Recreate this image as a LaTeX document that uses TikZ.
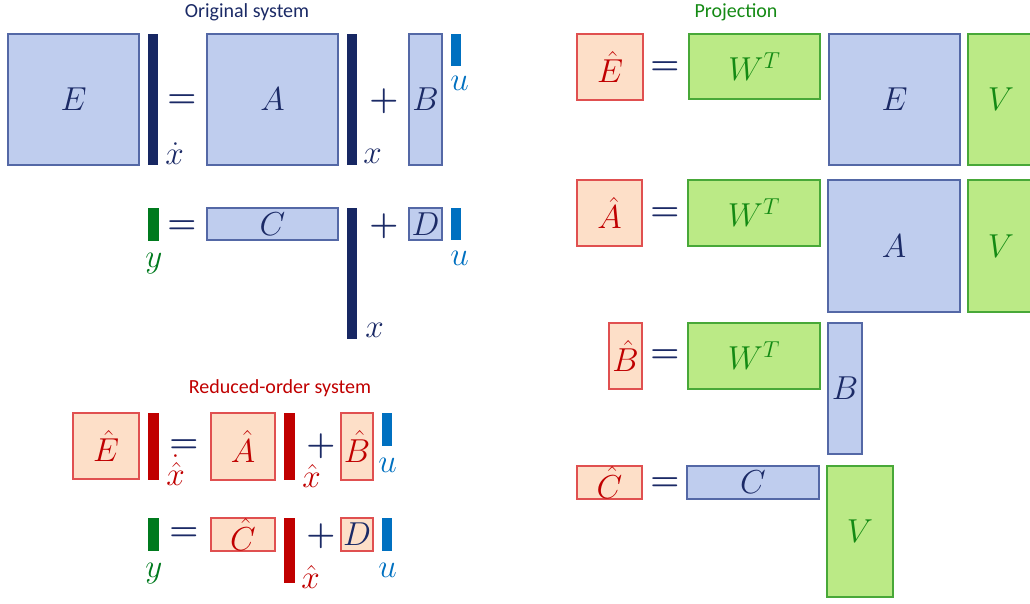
\documentclass[tikz,border=0pt]{standalone}
\usepackage{fontspec}
\setmainfont{Carlito}
\definecolor{bfill}{HTML}{BFCDEE}
\definecolor{bdraw}{HTML}{5468A6}
\definecolor{navy}{HTML}{1B2A66}
\definecolor{barnavy}{HTML}{172763}
\definecolor{pfill}{HTML}{FDDFC8}
\definecolor{pdraw}{HTML}{E05050}
\definecolor{gfill}{HTML}{BBEA86}
\definecolor{gdraw}{HTML}{48A838}
\definecolor{gtext}{HTML}{148A14}
\definecolor{dred}{HTML}{C00000}
\definecolor{ublue}{HTML}{0070C0}
\definecolor{ygreen}{HTML}{007A1E}
\tikzset{
 mat/.style={rectangle, inner sep=0pt, outer sep=0pt, line width=0.8pt, font=\fontsize{25}{29}\selectfont},
 bluebox/.style={mat, fill=bfill, draw=bdraw, text=navy},
 peachbox/.style={mat, fill=pfill, draw=pdraw, text=dred},
 greenbox/.style={mat, fill=gfill, draw=gdraw, text=gtext},
 navybar/.style={mat, fill=barnavy},
 redbar/.style={mat, fill=dred},
 ubar/.style={mat, fill=ublue},
 ybar/.style={mat, fill=ygreen},
 lbl/.style={inner sep=0pt, anchor=base west, font=\fontsize{25}{29}\selectfont},
 op/.style={inner sep=0pt, text=navy, font=\fontsize{24}{28}\selectfont\boldmath},
 title/.style={inner sep=0pt, anchor=base, font=\fontsize{15}{18}\selectfont},
}
\newcommand\blk[7]{\node[#2, minimum width={(#5-#3)*0.75pt}, minimum height={(#6-#4)*0.75pt}] (#1) at ({(#3+#5)/2},{(#4+#6)/2}) {#7};}
\begin{document}
\begin{tikzpicture}[x=0.75pt,y=-0.75pt]
\useasboundingbox (0,0) rectangle (1030,603);
\clip (0,0) rectangle (1030,603);
% ---------- Original system ----------
\node[title,text=navy] (t1) at (247,17) {Original system};
\blk{E}{bluebox}{8}{34}{139}{165}{$E$}
\blk{xd}{navybar}{148}{34}{158}{165}{}
\node[lbl,text=navy] (xdl) at (165,164) {$\dot{x}$};
\node[op] (eq1) at (182,101) {$=$};
\blk{A}{bluebox}{207}{34}{338}{165}{$A$}
\blk{x1}{navybar}{347}{34}{357}{165}{}
\node[lbl,text=navy] (x1l) at (363,163) {$x$};
\node[op] (pl1) at (384,101) {$+$};
\blk{B}{bluebox}{409}{34}{442}{165}{$B$}
\blk{u1}{ubar}{451}{34}{461}{66}{}
\node[lbl,text=ublue] (u1l) at (450,90) {$u$};
\blk{y1}{ybar}{148}{208}{159}{241}{}
\node[lbl,text=ygreen] (y1l) at (145,267) {$y$};
\node[op] (eq2) at (182,227) {$=$};
\blk{C}{bluebox}{207}{208}{338}{240}{$C$}
\blk{x2}{navybar}{347}{208}{357}{339}{}
\node[lbl,text=navy] (x2l) at (365,337) {$x$};
\node[op] (pl2) at (384,226) {$+$};
\blk{D}{bluebox}{409}{208}{442}{240}{$D$}
\blk{u2}{ubar}{451}{208}{461}{240}{}
\node[lbl,text=ublue] (u2l) at (450,265) {$u$};
% ---------- Reduced-order system ----------
\node[title,text=dred] (t2) at (280,393) {Reduced-order system};
\blk{Er}{peachbox}{73}{413}{139}{479}{$\hat{E}$}
\blk{xrd}{redbar}{148}{413}{159}{480}{}
\node[lbl,text=dred] (xrdl) at (166,485) {$\dot{\hat{x}}$};
\node[op] (eq3) at (184,446) {$=$};
\blk{Ar}{peachbox}{211}{413}{275}{480}{$\hat{A}$}
\blk{xr1}{redbar}{284}{413}{295}{480}{}
\node[lbl,text=dred] (xr1l) at (302,487) {$\hat{x}$};
\node[op] (pl3) at (321,446) {$+$};
\blk{Br}{peachbox}{341}{413}{373}{480}{$\hat{B}$}
\blk{ur1}{ubar}{382}{413}{392}{446}{}
\node[lbl,text=ublue] (ur1l) at (378,472) {$u$};
\blk{yr}{ybar}{148}{518}{159}{551}{}
\node[lbl,text=ygreen] (yrl) at (145,577) {$y$};
\node[op] (eq4) at (184,534) {$=$};
\blk{Cr}{peachbox}{211}{518}{275}{551}{$\hat{C}$}
\blk{xr2}{redbar}{284}{518}{295}{583}{}
\node[lbl,text=dred] (xr2l) at (301,588) {$\hat{x}$};
\node[op] (pl4) at (321,536) {$+$};
\blk{Dr}{peachbox,text=navy}{341}{518}{373}{551}{$D$}
\blk{ur2}{ubar}{382}{518}{392}{551}{}
\node[lbl,text=ublue] (ur2l) at (378,577) {$u$};
% ---------- Projection ----------
\node[title,text=gtext] (t3) at (736,17) {Projection};
\blk{PE}{peachbox}{577}{34}{643}{100}{$\hat{E}$}
\node[op] (eq5) at (665,68) {$=$};
\blk{W1}{greenbox}{689}{34}{820}{99}{$W^T$}
\blk{E2}{bluebox}{829}{34}{960}{165}{$E$}
\blk{V1}{greenbox}{968}{34}{1034}{165}{$V$}
\blk{PA}{peachbox}{577}{180}{642}{246}{$\hat{A}$}
\node[op] (eq6) at (665,214) {$=$};
\blk{W2}{greenbox}{688}{180}{820}{246}{$W^T$}
\blk{A2}{bluebox}{828}{180}{960}{312}{$A$}
\blk{V2}{greenbox}{968}{180}{1034}{312}{$V$}
\blk{PB}{peachbox}{609}{323}{642}{389}{$\hat{B}$}
\node[op] (eq7) at (665,356) {$=$};
\blk{W3}{greenbox}{688}{323}{820}{389}{$W^T$}
\blk{B2}{bluebox}{828}{323}{862}{454}{$B$}
\blk{PC}{peachbox}{577}{466}{642}{499}{$\hat{C}$}
\node[op] (eq8) at (665,484) {$=$};
\blk{C2}{bluebox}{687}{466}{819}{499}{$C$}
\blk{V3}{greenbox}{827}{466}{893}{597}{$V$}
\end{tikzpicture}
\end{document}
